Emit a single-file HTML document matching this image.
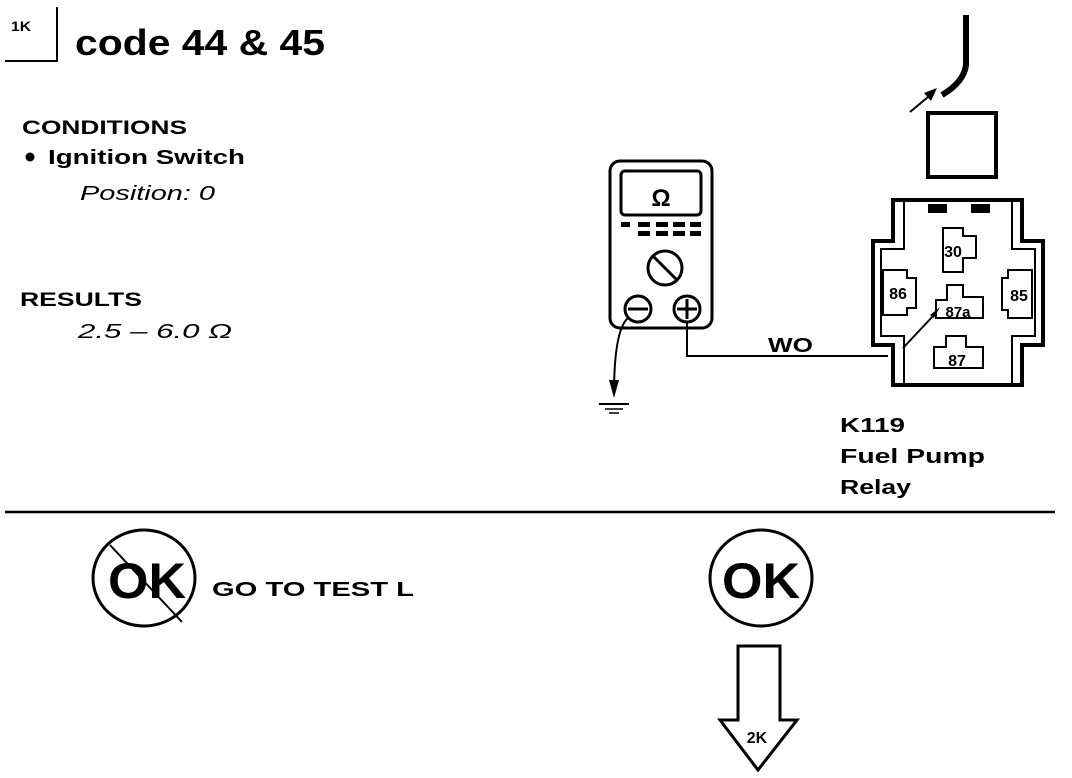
<!DOCTYPE html>
<html><head><style>
body{margin:0;background:#fff;}
svg{display:block;font-family:"Liberation Sans",Arial,sans-serif;}
</style></head><body>
<svg width="1072" height="778" viewBox="0 0 1072 778" xmlns="http://www.w3.org/2000/svg">
<rect width="1072" height="778" fill="#fff"/>
<!-- header -->
<text x="11" y="31" font-size="14" font-weight="bold" textLength="20" lengthAdjust="spacingAndGlyphs">1K</text>
<polyline points="5,61 57,61 57,7" fill="none" stroke="#000" stroke-width="2"/>
<text x="75" y="55" font-size="36" font-weight="bold" textLength="250" lengthAdjust="spacingAndGlyphs">code  44 &amp; 45</text>
<text x="22" y="134" font-size="19" font-weight="bold" textLength="165" lengthAdjust="spacingAndGlyphs">CONDITIONS</text>
<circle cx="30" cy="157" r="4.5" fill="#000"/>
<text x="48" y="164" font-size="20" font-weight="bold" textLength="197" lengthAdjust="spacingAndGlyphs">Ignition Switch</text>
<text x="80" y="200" font-size="20" font-style="italic" textLength="135" lengthAdjust="spacingAndGlyphs">Position:  0</text>
<text x="20" y="306" font-size="19" font-weight="bold" textLength="122" lengthAdjust="spacingAndGlyphs">RESULTS</text>
<text x="78" y="338" font-size="20" font-style="italic" textLength="154" lengthAdjust="spacingAndGlyphs">2.5 – 6.0 Ω</text>

<!-- multimeter -->
<g fill="none" stroke="#000" stroke-width="3">
<rect x="610" y="161" width="102" height="167" rx="10"/>
<rect x="621" y="171" width="80" height="44" rx="4"/>
<circle cx="665" cy="268" r="17"/>
<line x1="654" y1="257" x2="676" y2="279"/>
<circle cx="638" cy="309" r="13"/>
<line x1="628" y1="309" x2="648" y2="309"/>
<circle cx="687" cy="309" r="13"/>
<line x1="677" y1="309" x2="697" y2="309"/>
<line x1="687" y1="299" x2="687" y2="319"/>
</g>
<text x="661" y="206" font-size="24" font-weight="bold" text-anchor="middle">Ω</text>
<g fill="#000">
<rect x="621" y="222" width="9" height="5"/><rect x="638" y="222" width="12" height="5"/><rect x="656" y="222" width="12" height="5"/><rect x="673" y="222" width="12" height="5"/><rect x="690" y="222" width="11" height="5"/>
<rect x="638" y="231" width="12" height="5"/><rect x="656" y="231" width="12" height="5"/><rect x="673" y="231" width="12" height="5"/><rect x="690" y="231" width="11" height="5"/>
</g>
<!-- ground -->
<path d="M628,318 Q614,330 614,395" fill="none" stroke="#000" stroke-width="2"/>
<polygon points="609,380 619,380 614,398" fill="#000"/>
<line x1="599" y1="404" x2="629" y2="404" stroke="#000" stroke-width="2"/>
<line x1="605" y1="409" x2="623" y2="409" stroke="#000" stroke-width="1.5"/>
<line x1="609" y1="413" x2="619" y2="413" stroke="#000" stroke-width="1.5"/>
<!-- wire -->
<polyline points="687,322 687,356 888,356" fill="none" stroke="#000" stroke-width="2"/>
<text x="768" y="352" font-size="20" font-weight="bold" textLength="45" lengthAdjust="spacingAndGlyphs">WO</text>

<!-- relay cover + cable -->
<rect x="928" y="113" width="68" height="64" fill="none" stroke="#000" stroke-width="4"/>
<path d="M966,15 L966,65 Q964,82 942,95" fill="none" stroke="#000" stroke-width="6"/>
<line x1="910" y1="112" x2="934" y2="92" stroke="#000" stroke-width="2"/>
<polygon points="937,88 924,93 931,101" fill="#000"/>

<!-- relay body -->
<g fill="none" stroke="#000" stroke-width="4">
<polygon points="893,200 1022,200 1022,241 1043,241 1043,345 1022,345 1022,385 893,385 893,345 873,345 873,241 893,241"/>
</g>
<g fill="none" stroke="#000" stroke-width="2">
<polyline points="904,202 904,249 881,249 881,336 904,336 904,383"/>
<polyline points="1012,202 1012,249 1035,249 1035,336 1012,336 1012,383"/>
<polygon points="943,228 963,228 963,236 976,236 976,258 963,258 963,272 943,272"/>
<polygon points="883,270 907,270 907,278 916,278 916,308 907,308 907,315 883,315"/>
<polygon points="1032,270 1008,270 1008,278 1002,278 1002,310 1008,310 1008,318 1032,318"/>
<polygon points="947,285 963,285 963,297 983,297 983,318 936,318 936,300 947,300"/>
<polygon points="946,336 966,336 966,347 983,347 983,368 934,368 934,347 946,347"/>
<line x1="903" y1="348" x2="934" y2="315"/>
</g>
<rect x="928" y="204" width="19" height="9" fill="#000"/>
<rect x="971" y="204" width="19" height="9" fill="#000"/>
<polygon points="940,307 930,315 934,318" fill="#000"/>
<text x="953" y="257" font-size="16" font-weight="bold" text-anchor="middle">30</text>
<text x="898" y="299" font-size="16" font-weight="bold" text-anchor="middle">86</text>
<text x="1019" y="301" font-size="16" font-weight="bold" text-anchor="middle">85</text>
<text x="958" y="317" font-size="15" font-weight="bold" text-anchor="middle">87a</text>
<text x="957" y="366" font-size="16" font-weight="bold" text-anchor="middle">87</text>

<text x="840" y="432" font-size="20" font-weight="bold" textLength="65" lengthAdjust="spacingAndGlyphs">K119</text>
<text x="840" y="463" font-size="20" font-weight="bold" textLength="145" lengthAdjust="spacingAndGlyphs">Fuel Pump</text>
<text x="840" y="494" font-size="20" font-weight="bold" textLength="71" lengthAdjust="spacingAndGlyphs">Relay</text>

<line x1="5" y1="512" x2="1055" y2="512" stroke="#000" stroke-width="2.5"/>

<!-- bottom -->
<ellipse cx="144" cy="578" rx="51" ry="48" fill="none" stroke="#000" stroke-width="3"/>
<text x="147" y="598" font-size="50" font-weight="bold" text-anchor="middle" textLength="78" lengthAdjust="spacingAndGlyphs">OK</text>
<line x1="110" y1="545" x2="182" y2="622" stroke="#000" stroke-width="2"/>
<text x="212" y="596" font-size="20" font-weight="bold" textLength="202" lengthAdjust="spacingAndGlyphs">GO TO TEST L</text>

<ellipse cx="761" cy="578" rx="51" ry="48" fill="none" stroke="#000" stroke-width="3"/>
<text x="761" y="598" font-size="50" font-weight="bold" text-anchor="middle" textLength="78" lengthAdjust="spacingAndGlyphs">OK</text>
<polygon points="738,646 780,646 780,720 797,720 758,770 720,720 738,720" fill="none" stroke="#000" stroke-width="3"/>
<text x="757" y="743" font-size="16" font-weight="bold" text-anchor="middle">2K</text>
</svg>
</body></html>
